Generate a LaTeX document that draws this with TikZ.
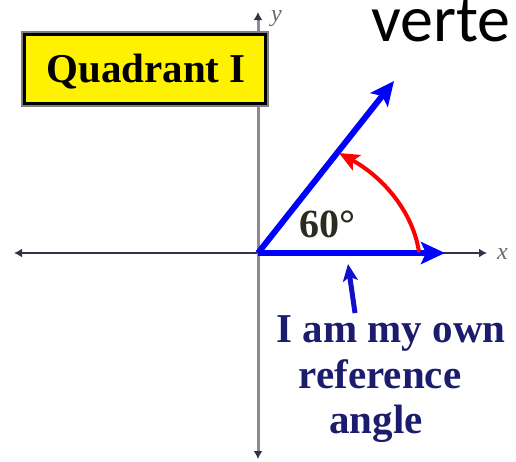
\documentclass[tikz,border=0pt]{standalone}
\usepackage{fontspec}
\setmainfont{Liberation Serif}
\newfontfamily\calib{Carlito}
\usetikzlibrary{arrows.meta}
\definecolor{axisdark}{HTML}{333344}
\definecolor{axisgray}{HTML}{8A8A95}
\definecolor{navytext}{HTML}{1C1C6E}
\definecolor{olivetext}{HTML}{2B2B1E}
\definecolor{arrowblue}{HTML}{1010CC}
\definecolor{labelgray}{HTML}{6A6A6A}
\tikzset{
  axistip/.style={-{Latex[length=8pt,width=9pt,color=axisdark]}},
  bigfont/.style={font=\fontsize{41}{45}\selectfont\bfseries},
  ray/.style={draw=blue, line width=6pt, -{Stealth[length=24pt,width=22pt,inset=5pt]}},
  anglearc/.style={draw=red, line width=4pt, -{Stealth[length=20pt,width=17pt,inset=4pt]}},
  pointer/.style={draw=arrowblue, line width=5pt, -{Stealth[length=17pt,width=15pt,inset=4pt]}},
  axislabel/.style={text=labelgray, font=\fontsize{24}{26}\selectfont\itshape, inner sep=0pt}
}
\begin{document}
\begin{tikzpicture}[x=1pt,y=-1pt]
\useasboundingbox (0,0) rectangle (516,461);
\node[anchor=base west, inner sep=0pt, font=\calib\fontsize{66}{68}\selectfont] (vert) at (371,41) {verte};
% axes
\coordinate (O) at (258,253);
\coordinate (xl) at (14,253);
\coordinate (xr) at (487,253);
\coordinate (yt) at (258,12);
\coordinate (yb) at (258,459);
\draw[axisdark, line width=2.5pt, axistip] (O) -- (xl);
\draw[axisdark, line width=2.5pt, axistip] (O) -- (xr);
\draw[axisgray, line width=3pt, axistip] (O) -- (yt);
\draw[axisgray, line width=3pt, axistip] (O) -- (yb);
\node[axislabel, anchor=west] (ylab) at (271,19) {y};
\node[axislabel, anchor=west] (xlab) at (497,254) {x};
% Quadrant box
\node[draw=gray, line width=7pt, minimum width=241pt, minimum height=69pt, inner sep=0pt] (qbg) at (144.5,68.5) {};
\node[draw=black, fill=yellow, line width=3pt, minimum width=241pt, minimum height=69pt, inner sep=0pt] (qbox) at (144.5,68.5) {};
\node[bigfont, anchor=base, inner sep=0pt] (qtext) at (146,82) {Quadrant I};
% rays
\coordinate (tipI) at (445,253);
\coordinate (tipT) at (394,81);
\draw[ray] (O) -- (tipI);
\draw[ray] (O) -- (tipT);
% angle arc
\coordinate (arcs) at (419,252);
\coordinate (arce) at (339,153);
\draw[anglearc] (arcs) .. controls (413,212) and (383,177) .. (arce);
\node[font=\fontsize{40}{44}\selectfont\bfseries, text=olivetext, anchor=base west, inner sep=0pt] (ang) at (299,237) {60°};
% pointer and label
\coordinate (ptail) at (355,313);
\coordinate (ptip) at (348,264);
\draw[pointer] (ptail) -- (ptip);
\node[bigfont, text=navytext, anchor=base, inner sep=0pt] (l1) at (391,342) {I am my own};
\node[bigfont, text=navytext, anchor=base, inner sep=0pt] (l2) at (380,388) {reference};
\node[bigfont, text=navytext, anchor=base, inner sep=0pt] (l3) at (376,433) {angle};
\end{tikzpicture}
\end{document}
